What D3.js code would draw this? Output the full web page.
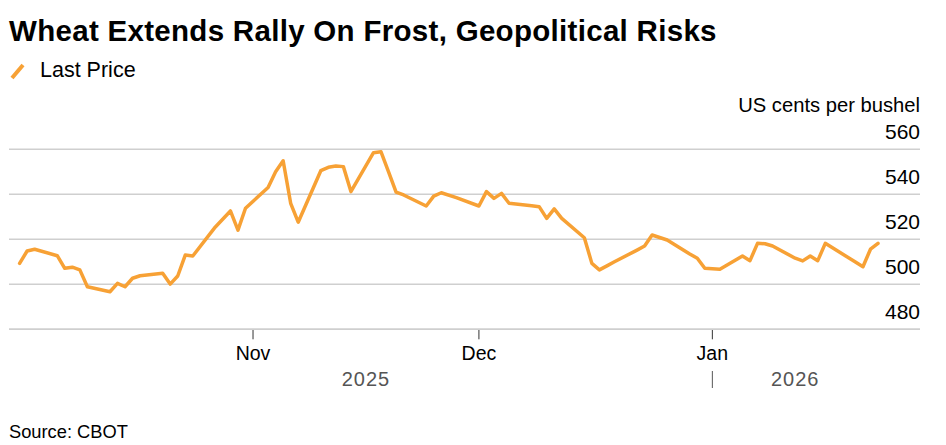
<!DOCTYPE html>
<html>
<head>
<meta charset="utf-8">
<script src="https://cdn.jsdelivr.net/npm/d3@7"></script>
<style>
  body { margin: 0; background: #fff; }
  text { font-family: "Liberation Sans", Arial, sans-serif; }
</style>
</head>
<body>
<script>
// CBOT wheat, last price, US cents per bushel
var dates = [
  '2025-10-01','2025-10-02','2025-10-03','2025-10-06','2025-10-07','2025-10-08','2025-10-09','2025-10-10',
  '2025-10-13','2025-10-14','2025-10-15','2025-10-16','2025-10-17','2025-10-20','2025-10-21','2025-10-22',
  '2025-10-23','2025-10-24','2025-10-27','2025-10-28','2025-10-29','2025-10-30','2025-10-31',
  '2025-11-03','2025-11-04','2025-11-05','2025-11-06','2025-11-07','2025-11-10','2025-11-11','2025-11-12',
  '2025-11-13','2025-11-14','2025-11-17','2025-11-18','2025-11-19','2025-11-20','2025-11-21','2025-11-24',
  '2025-11-25','2025-11-26','2025-11-28',
  '2025-12-01','2025-12-02','2025-12-03','2025-12-04','2025-12-05','2025-12-08','2025-12-09','2025-12-10',
  '2025-12-11','2025-12-12','2025-12-15','2025-12-16','2025-12-17','2025-12-18','2025-12-19','2025-12-22',
  '2025-12-23','2025-12-24','2025-12-26','2025-12-29','2025-12-30','2025-12-31',
  '2026-01-02','2026-01-05','2026-01-06','2026-01-07','2026-01-08','2026-01-09','2026-01-12','2026-01-13',
  '2026-01-14','2026-01-15','2026-01-16','2026-01-20','2026-01-21','2026-01-22','2026-01-23'
];
var lastPrice = [
  509.3, 514.8, 515.6, 512.7, 507.1, 507.6, 506.4, 498.9,
  496.7, 500.4, 498.9, 502.7, 503.8, 504.9, 500.1, 503.7,
  513.0, 512.6, 525.5, 529.0, 532.6, 524.1, 533.8,
  543.0, 550.0, 554.9, 536.0, 527.6, 550.5, 552.0, 552.6,
  552.3, 541.2, 558.5, 558.9, 550.0, 541.0, 539.7, 534.8,
  539.2, 540.7, 538.5,
  534.8, 541.2, 538.2, 540.4, 536.0, 534.9, 534.5, 529.3,
  533.5, 529.3, 520.7, 509.3, 506.4, 508.2, 510.0, 515.2,
  517.0, 521.9, 519.7, 513.5, 511.6, 507.1,
  506.7, 512.6, 510.5, 518.2, 518.0, 517.0, 511.6, 510.4,
  512.6, 510.5, 518.2, 509.9, 507.8, 515.6, 518.2
];
var yTicks = [480, 500, 520, 540, 560];
var monthTicks = ['2025-11-01', '2025-12-01', '2026-01-01'];
var monthLabels = ['Nov', 'Dec', 'Jan'];
var yearLabels = ['2025', '2026'];

var chart = function() {
  var width = 946;
  var height = 445;
  var left = 9;
  var right = 920;
  var top = 149.3;
  var bottom = 329.3;
  var orange = '#f7a135';
  var gridColor = '#cfcfcf';
  var svg, x, y;
  var parse = d3.timeParse('%Y-%m-%d');

  var createSvg = function() {
    svg = d3.select('body').append('svg')
      .attr('width', width)
      .attr('height', height);
    svg.append('rect').attr('width', width).attr('height', height).style('fill', '#fff');
  };

  var createScales = function() {
    x = d3.scaleTime()
      .domain([parse(dates[0]), parse(dates[dates.length - 1])])
      .range([19.6, 878]);
    y = d3.scaleLinear()
      .domain([480, 560])
      .range([bottom, top]);
  };

  var drawHeader = function() {
    svg.append('text')
      .attr('x', left)
      .attr('y', 41)
      .style('font-size', '29.5px')
      .style('font-weight', 'bold')
      .style('letter-spacing', '0.3px')
      .style('fill', '#000')
      .text('Wheat Extends Rally On Frost, Geopolitical Risks');

    svg.append('line')
      .attr('x1', 12).attr('y1', 78)
      .attr('x2', 23).attr('y2', 65)
      .style('stroke', orange)
      .style('stroke-width', 4);
    svg.append('text')
      .attr('x', 40)
      .attr('y', 77)
      .style('font-size', '21.5px')
      .style('fill', '#000')
      .text('Last Price');

    svg.append('text')
      .attr('x', right)
      .attr('y', 112)
      .attr('text-anchor', 'end')
      .style('font-size', '20.2px')
      .style('fill', '#000')
      .text('US cents per bushel');
  };

  var drawYAxis = function() {
    var g = svg.append('g').attr('class', 'y-axis');
    g.selectAll('line')
      .data(yTicks)
      .enter().append('line')
      .attr('x1', left)
      .attr('x2', right)
      .attr('y1', function(d) { return y(d); })
      .attr('y2', function(d) { return y(d); })
      .style('stroke', gridColor)
      .style('stroke-width', 1.5);
    g.selectAll('text')
      .data(yTicks)
      .enter().append('text')
      .attr('x', right)
      .attr('y', function(d) { return y(d) - 10; })
      .attr('text-anchor', 'end')
      .style('font-size', '21px')
      .style('fill', '#000')
      .text(function(d) { return d; });
  };

  var drawXAxis = function() {
    var g = svg.append('g').attr('class', 'x-axis');
    var ticks = monthTicks.map(parse);
    g.selectAll('line.tick')
      .data(ticks)
      .enter().append('line')
      .attr('class', 'tick')
      .attr('x1', function(d) { return x(d); })
      .attr('x2', function(d) { return x(d); })
      .attr('y1', bottom)
      .attr('y2', bottom + 10)
      .style('stroke', '#333')
      .style('stroke-width', 1);
    g.selectAll('text.month')
      .data(ticks)
      .enter().append('text')
      .attr('class', 'month')
      .attr('x', function(d) { return x(d); })
      .attr('y', 360)
      .attr('text-anchor', 'middle')
      .style('font-size', '19.5px')
      .style('fill', '#000')
      .text(function(d, i) { return monthLabels[i]; });

    var jan = parse('2026-01-01');
    var yearX = [
      (x(parse(dates[0])) + x(jan)) / 2,
      (x(jan) + x(parse(dates[dates.length - 1]))) / 2
    ];
    g.selectAll('text.year')
      .data(yearLabels)
      .enter().append('text')
      .attr('class', 'year')
      .attr('x', function(d, i) { return yearX[i]; })
      .attr('y', 386)
      .attr('text-anchor', 'middle')
      .style('font-size', '20px')
      .style('letter-spacing', '1px')
      .style('fill', '#555')
      .text(function(d) { return d; });
    g.append('line')
      .attr('x1', x(jan)).attr('x2', x(jan))
      .attr('y1', 371).attr('y2', 388)
      .style('stroke', '#555')
      .style('stroke-width', 1);

    // baseline drawn over the 480 grid line
    g.append('line')
      .attr('x1', left).attr('x2', right)
      .attr('y1', bottom).attr('y2', bottom)
      .style('stroke', gridColor)
      .style('stroke-width', 1.5);
  };

  var drawLine = function() {
    var points = dates.map(function(d, i) { return {date: parse(d), value: lastPrice[i]}; });
    var line = d3.line()
      .x(function(d) { return x(d.date); })
      .y(function(d) { return y(d.value); });
    svg.append('path')
      .datum(points)
      .attr('d', line)
      .style('fill', 'none')
      .style('stroke', orange)
      .style('stroke-width', 3.5)
      .style('stroke-linejoin', 'round')
      .style('stroke-linecap', 'round');
  };

  var drawSource = function() {
    svg.append('text')
      .attr('x', left)
      .attr('y', 438)
      .style('font-size', '18.3px')
      .style('fill', '#000')
      .text('Source: CBOT');
  };

  var render = function() {
    createSvg();
    createScales();
    drawHeader();
    drawYAxis();
    drawXAxis();
    drawLine();
    drawSource();
  };

  return { render: render };
}();

chart.render();
</script>
</body>
</html>
